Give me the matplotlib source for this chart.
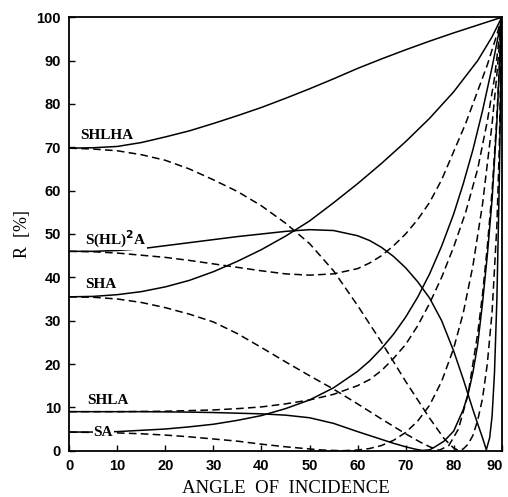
import matplotlib
matplotlib.use("Agg")
import matplotlib.pyplot as plt
import matplotlib.transforms as mtransforms

# ============================================================
# Reflectance vs angle of incidence, s (solid) and p (dashed)
# ============================================================

# SA
ANG_SA_S = [0, 5, 10, 15, 20, 25, 30, 35, 40, 45, 50, 55, 60, 62.5, 65, 67.5, 70, 72.5, 75, 77.5,
            80, 82, 84, 86, 88, 89, 90]
SA_S = [4.3, 4.3, 4.4, 4.7, 5.0, 5.5, 6.1, 7.0, 8.1, 9.7, 11.7, 14.5, 18.3, 20.7, 23.6, 26.9, 30.8,
        35.4, 40.8, 47.2, 54.6, 61.6, 69.4, 78.4, 88.5, 94.1, 100]
ANG_SA_P = [0, 5, 10, 15, 20, 25, 30, 35, 40, 45, 50, 52.5, 55, 57, 60, 62.5, 65, 67.5, 70, 72.5,
            75, 77.5, 80, 82, 84, 86, 88, 89, 90]
SA_P = [4.3, 4.2, 4.1, 3.9, 3.6, 3.2, 2.7, 2.2, 1.5, 0.9, 0.4, 0.17, 0.05, 0.0, 0.15, 0.5, 1.2,
        2.4, 4.2, 6.8, 10.5, 16.0, 23.6, 31.8, 42.6, 56.8, 75.4, 86.9, 100]

# SHLA
ANG_SHLA_S = [0, 5, 10, 15, 20, 25, 30, 35, 40, 45, 50, 55, 60, 62.5, 65, 67.5, 70, 72, 73.5, 75,
              76, 78, 80, 82, 83, 84, 85, 86, 87, 88, 89, 90]
SHLA_S = [9.0, 9.0, 9.0, 9.0, 8.95, 8.9, 8.8, 8.65, 8.5, 8.2, 7.6, 6.3, 4.4, 3.5, 2.6, 1.7, 0.9,
          0.35, 0.05, 0.2, 0.8, 2.2, 4.5, 9.5, 13, 18, 24.5, 34, 45, 58, 76, 100]
ANG_SHLA_P = [0, 5, 10, 15, 20, 25, 30, 35, 40, 45, 50, 55, 60, 62.5, 65, 67.5, 70, 72.5, 75, 77.5,
              80, 82.5, 85, 87, 88.5, 90]
SHLA_P = [9.0, 9.0, 9.0, 9.05, 9.1, 9.25, 9.4, 9.7, 10.1, 10.8, 11.7, 13.0, 15.0, 16.4, 18.5, 21.3,
          24.5, 28.8, 34.0, 40.0, 47.0, 55.0, 65.0, 76.0, 86.0, 100]

# SHA
ANG_SHA_S = [0, 5, 10, 15, 20, 25, 30, 35, 40, 45, 50, 55, 60, 65, 70, 75, 80, 85, 88, 90]
SHA_S = [35.5, 35.6, 36.0, 36.7, 37.8, 39.3, 41.3, 43.7, 46.4, 49.5, 53.0, 57.2, 61.6, 66.3, 71.3,
         76.7, 82.8, 90.0, 95.5, 100]
ANG_SHA_P = [0, 5, 10, 15, 20, 25, 30, 35, 40, 45, 50, 55, 60, 65, 70, 73, 75, 77, 79, 81, 83, 85,
             86, 87, 88, 89, 90]
SHA_P = [35.5, 35.4, 35.0, 34.2, 33.0, 31.5, 29.7, 27.0, 23.8, 20.5, 17.3, 14.2, 10.8, 7.3, 3.9, 2.0,
         0.9, 0.1, 1.2, 5, 13, 27, 36, 47, 60, 77, 100]

# S(HL)^2A
ANG_SHL2A_S = [0, 5, 10, 15, 20, 25, 30, 35, 40, 45, 50, 55, 60, 62.5, 65, 67.5, 70, 72.5, 75, 77.5,
               80, 82, 83, 84, 85, 86, 86.8, 87.5, 88, 88.5, 89, 89.5, 90]
SHL2A_S = [46.0, 46.0, 46.2, 46.6, 47.3, 48.0, 48.7, 49.4, 50.0, 50.6, 51.0, 50.8, 49.6, 48.5, 46.9,
           44.8, 42.2, 39.0, 35.2, 30.0, 23.0, 16.5, 13.0, 9.5, 6.2, 3.0, 0.2, 3, 8, 18, 35, 62, 100]
ANG_SHL2A_P = [0, 5, 10, 15, 20, 25, 30, 35, 40, 45, 50, 55, 60, 62.5, 65, 67.5, 70, 72.5, 75, 77.5,
               80, 82.5, 85, 87, 88, 89, 90]
SHL2A_P = [46.0, 45.9, 45.6, 45.1, 44.6, 43.9, 43.1, 42.3, 41.5, 40.8, 40.5, 40.8, 42.0, 43.3, 45.0,
           47.3, 50.0, 53.3, 57.3, 62.5, 69.0, 75.5, 83.0, 89.0, 92.5, 96.0, 100]

# SHLHA
ANG_SHLHA_S = [0, 5, 10, 15, 20, 25, 30, 35, 40, 45, 50, 55, 60, 65, 70, 75, 80, 85, 90]
SHLHA_S = [69.8, 69.9, 70.2, 71.1, 72.4, 73.8, 75.5, 77.3, 79.2, 81.3, 83.5, 85.8, 88.2, 90.4, 92.5,
           94.5, 96.4, 98.2, 100]
ANG_SHLHA_P = [0, 5, 10, 15, 20, 25, 30, 35, 40, 45, 50, 55, 60, 65, 70, 75, 78, 80, 81, 82, 83, 84,
               85, 86, 87, 88, 89, 89.5, 90]
SHLHA_P = [69.8, 69.6, 69.2, 68.3, 67.0, 65.0, 62.5, 59.8, 56.5, 52.5, 47.8, 41.5, 33.5, 25.0, 16.0,
           7.5, 2.8, 0.6, 0.1, 0.4, 1.5, 3.5, 7, 12, 20, 32, 52, 70, 100]

CURVES = [
    (ANG_SA_S, SA_S, "-"), (ANG_SA_P, SA_P, "--"),
    (ANG_SHLA_S, SHLA_S, "-"), (ANG_SHLA_P, SHLA_P, "--"),
    (ANG_SHA_S, SHA_S, "-"), (ANG_SHA_P, SHA_P, "--"),
    (ANG_SHL2A_S, SHL2A_S, "-"), (ANG_SHL2A_P, SHL2A_P, "--"),
    (ANG_SHLHA_S, SHLHA_S, "-"), (ANG_SHLHA_P, SHLHA_P, "--"),
]

# label text, x, y (data units)
LABELS = [
    ("SHLHA", 2.3, 72.8),
    ("S(HL)$^{\\mathbf{2}}$A", 3.2, 48.8),
    ("SHA", 3.3, 38.3),
    ("SHLA", 3.8, 11.6),
    ("SA", 5.0, 4.3),
]

fig = plt.figure(figsize=(5.08, 4.97), dpi=100)
ax = fig.add_axes([0.1364, 0.0932, 0.8512, 0.872])

for ang, vals, ls in CURVES:
    if ls == "--":
        ax.plot(ang, vals, color="black", lw=1.1, linestyle=(0, (5, 2.8)))
    else:
        ax.plot(ang, vals, color="black", lw=1.1, linestyle="-")

for txt, x, y in LABELS:
    ax.text(x, y, txt, fontsize=11, family="Liberation Serif", fontweight="bold",
            va="center", ha="left", zorder=5,
            bbox=dict(facecolor="white", edgecolor="none", pad=0.6))

ax.set_xlim(0, 90)
ax.set_ylim(0, 100)
ax.set_xticks(range(0, 91, 10))
ax.set_yticks(range(0, 101, 10))
ax.tick_params(direction="in", length=4.5, width=1.0, pad=6, labelsize=10.5)
for lab in ax.get_xticklabels() + ax.get_yticklabels():
    lab.set_fontweight("bold")
    lab.set_family("Liberation Sans")
for sp in ax.spines.values():
    sp.set_linewidth(1.3)

# last x tick label sits a little left of its tick, as in the original
last = ax.get_xticklabels()[-1]
last.set_transform(last.get_transform() +
                   mtransforms.ScaledTranslation(-5 / 72, 0, fig.dpi_scale_trans))

ax.set_xlabel("ANGLE  OF  INCIDENCE", fontsize=13.5, family="Liberation Serif", labelpad=5)
ax.set_ylabel("R  [%]", fontsize=13, family="Liberation Serif", labelpad=4)

fig.savefig("out.png", dpi=100)
